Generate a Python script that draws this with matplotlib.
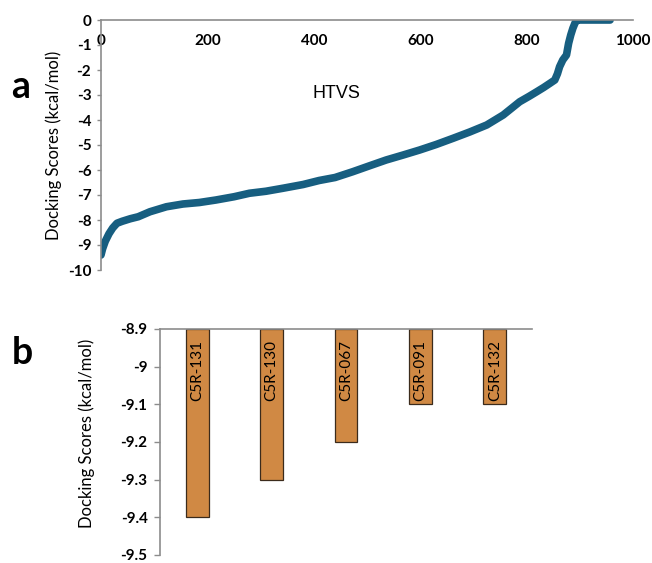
import numpy as np
import matplotlib
matplotlib.use("Agg")
import matplotlib.pyplot as plt

plt.rcParams['font.family'] = ['Lato', 'DejaVu Sans']

# panel a: HTVS docking scores vs rank
rank = [0, 3, 8, 15, 22, 30, 40, 55, 70, 92, 123, 154, 185, 216, 250, 279, 310,
        342, 380, 410, 440, 473, 505, 536, 568, 599, 630, 662, 693, 725, 756,
        787, 805, 819, 832, 844, 853, 858, 862, 868, 875, 879, 883, 887, 891,
        894, 897, 920, 957]
htvs = [-9.4, -9.15, -8.85, -8.55, -8.32, -8.13, -8.05, -7.95, -7.87, -7.67,
        -7.47, -7.36, -7.3, -7.2, -7.07, -6.93, -6.85, -6.73, -6.58, -6.42,
        -6.3, -6.07, -5.83, -5.6, -5.4, -5.2, -4.98, -4.73, -4.48, -4.2, -3.8,
        -3.27, -3.05, -2.87, -2.7, -2.53, -2.4, -2.15, -1.87, -1.6, -1.4,
        -0.93, -0.6, -0.33, -0.12, -0.03, 0.0, 0.0, 0.0]
xticks_a = [0, 200, 400, 600, 800, 1000]
yticks_a = list(range(-10, 1))

# panel b: top compounds
compounds = ['C5R-131', 'C5R-130', 'C5R-067', 'C5R-091', 'C5R-132']
scores = [-9.4, -9.3, -9.2, -9.1, -9.1]
base = -8.9
yticks_b = [-9.5, -9.4, -9.3, -9.2, -9.1, -9.0, -8.9]

W, H = 652, 563
fig = plt.figure(figsize=(W / 100, H / 100), dpi=100)
grey = '#8c8c8c'

# ---- panel a
ax1 = fig.add_axes([101 / W, 1 - 270 / H, (633 - 101) / W, 250 / H])
ax1.plot(rank, htvs, '-', color='#175e80', lw=5.5,
         solid_capstyle='round', solid_joinstyle='round')
ax1.set_xlim(0, 1000)
ax1.set_ylim(-10, 0)
ax1.set_xticks(xticks_a, [str(t) for t in xticks_a], fontweight='bold', fontsize=11)
ax1.set_yticks(yticks_a, [str(t) for t in yticks_a], fontweight='bold', fontsize=11)
for s in ['right', 'bottom']:
    ax1.spines[s].set_visible(False)
for s in ['left', 'top']:
    ax1.spines[s].set_color(grey)
    ax1.spines[s].set_linewidth(1.2)
ax1.tick_params(axis='x', bottom=False, labelbottom=False, top=True,
                labeltop=True, length=0, pad=-20)
ax1.tick_params(axis='y', direction='out', length=3, width=1,
                color=grey, pad=4)
ax1.set_ylabel('Docking Scores (kcal/mol)', fontsize=12, labelpad=4)
ax1.text(443, -2.95, 'HTVS', fontsize=13, family='Liberation Sans',
         ha='center', va='center')
fig.text(21 / W, 1 - 87 / H, 'a', fontsize=27, fontweight='bold',
         ha='center', va='center')

# ---- panel b
ax2 = fig.add_axes([160 / W, 1 - 555 / H, (532 - 160) / W, (555 - 329) / H])
x = np.arange(len(compounds))
heights = [v - base for v in scores]
ax2.bar(x, heights, bottom=base, width=0.305, color='#d08944',
        edgecolor='#3b2b1c', linewidth=0.9)
for xi, name in zip(x, compounds):
    ax2.text(xi, base - 0.028, name, rotation=90, ha='center', va='top',
             fontsize=11)
ax2.set_xlim(-0.5, len(compounds) - 0.5)
ax2.set_ylim(-9.5, -8.9)
ax2.set_yticks(yticks_b, [f'{t:g}' for t in yticks_b], fontweight='bold', fontsize=11)
ax2.set_xticks([])
for s in ['right', 'bottom']:
    ax2.spines[s].set_visible(False)
for s in ['left', 'top']:
    ax2.spines[s].set_color(grey)
    ax2.spines[s].set_linewidth(1.2)
ax2.tick_params(axis='y', direction='out', length=4, width=1,
                color=grey, pad=5)
ax2.set_ylabel('Docking Scores (kcal/mol)', fontsize=12, labelpad=8)
ax2.yaxis.set_label_coords(-0.175, 0.54)
fig.text(22 / W, 1 - 353 / H, 'b', fontsize=27, fontweight='bold',
         ha='center', va='center')

fig.savefig('out.png', dpi=100)
